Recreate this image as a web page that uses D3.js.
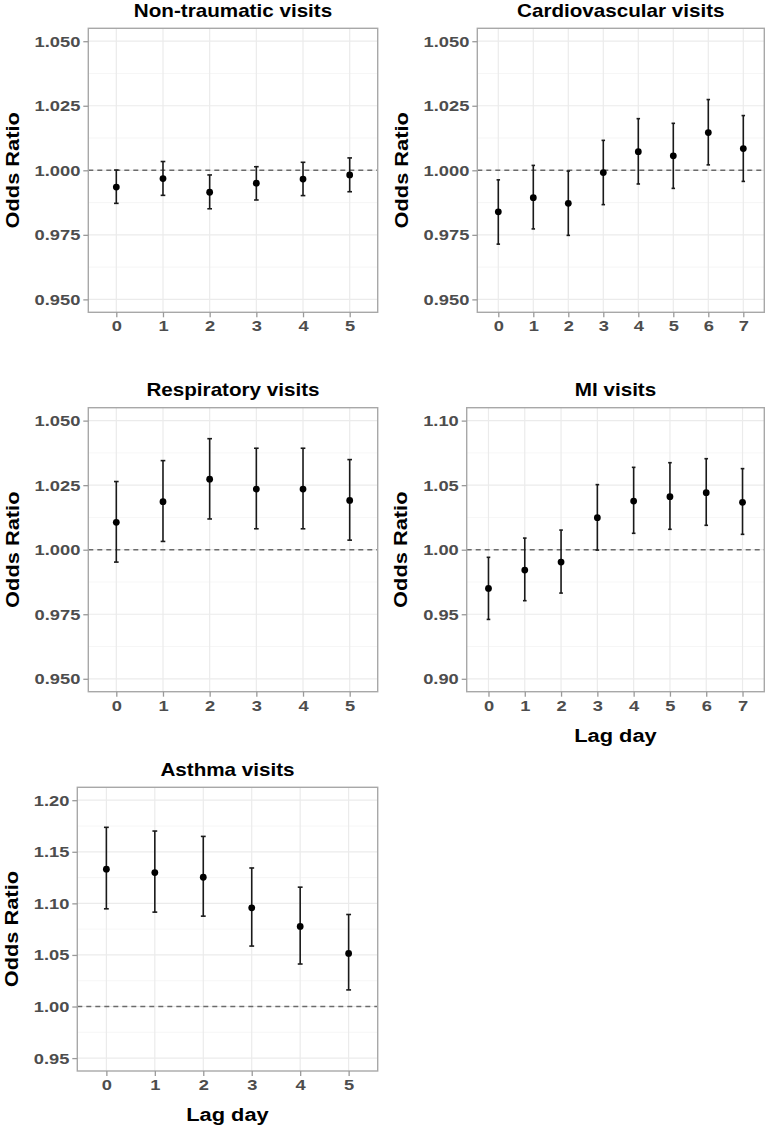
<!DOCTYPE html>
<html>
<head>
<meta charset="utf-8">
<script src="https://cdn.jsdelivr.net/npm/d3@7"></script>
<style>
  html, body { margin: 0; padding: 0; background: #fff; }
  svg { display: block; }
  text { font-family: "Liberation Sans", Arial, Helvetica, sans-serif; font-weight: bold; }
</style>
</head>
<body>
<svg id="chart" width="769" height="1128"></svg>
<script>
// ---------- DATA ----------
const panelTitles = ["Non-traumatic visits", "Cardiovascular visits", "Respiratory visits", "MI visits", "Asthma visits"];

const lagDays6 = [0, 1, 2, 3, 4, 5];
const lagDays8 = [0, 1, 2, 3, 4, 5, 6, 7];

// Non-traumatic visits
const nonTraumaOR = [0.9935, 0.9968, 0.9915, 0.9950, 0.9966, 0.9982];
const nonTraumaLo = [0.9872, 0.9903, 0.9851, 0.9885, 0.9902, 0.9917];
const nonTraumaHi = [1.0001, 1.0034, 0.9982, 1.0014, 1.0031, 1.0048];

// Cardiovascular visits
const cardioOR = [0.9839, 0.9894, 0.9872, 0.9991, 1.0072, 1.0056, 1.0146, 1.0084];
const cardioLo = [0.9714, 0.9773, 0.9748, 0.9867, 0.9947, 0.9930, 1.0021, 0.9957];
const cardioHi = [0.9963, 1.0019, 0.9997, 1.0116, 1.0200, 1.0182, 1.0274, 1.0212];

// Respiratory visits
const respOR = [1.0106, 1.0186, 1.0273, 1.0235, 1.0235, 1.0191];
const respLo = [0.9952, 1.0032, 1.0119, 1.0081, 1.0081, 1.0037];
const respHi = [1.0264, 1.0345, 1.0430, 1.0393, 1.0393, 1.0349];

// MI visits
const miOR = [0.9700, 0.9842, 0.9904, 1.0248, 1.0377, 1.0411, 1.0442, 1.0367];
const miLo = [0.9460, 0.9605, 0.9664, 0.9997, 1.0127, 1.0158, 1.0189, 1.0119];
const miHi = [0.9941, 1.0090, 1.0152, 1.0504, 1.0638, 1.0674, 1.0705, 1.0628];

// Asthma visits
const asthmaOR = [1.1331, 1.1298, 1.1253, 1.0957, 1.0776, 1.0515];
const asthmaLo = [1.0947, 1.0915, 1.0876, 1.0586, 1.0412, 1.0161];
const asthmaHi = [1.1737, 1.1701, 1.1649, 1.1343, 1.1157, 1.0892];

// Y-axis ticks (major) per panel
const ticksSmall = [0.950, 0.975, 1.000, 1.025, 1.050];
const ticksMI = [0.90, 0.95, 1.00, 1.05, 1.10];
const ticksAsthma = [0.95, 1.00, 1.05, 1.10, 1.15, 1.20];

const yTitle = "Odds Ratio";
const xTitle = "Lag day";
const refValue = 1.0;

// ---------- LAYOUT ----------
const SX = 1.18; // horizontal text stretch to match reference glyph widths
const svg = d3.select("#chart");

const panels = [
  { title: panelTitles[0], lags: lagDays6, or: nonTraumaOR, lo: nonTraumaLo, hi: nonTraumaHi,
    ticks: ticksSmall, fmt: d3.format(".3f"), box: [88.3, 28.3, 377.7, 312.3], xlab: false },
  { title: panelTitles[1], lags: lagDays8, or: cardioOR, lo: cardioLo, hi: cardioHi,
    ticks: ticksSmall, fmt: d3.format(".3f"), box: [477.3, 28.3, 764.3, 312.3], xlab: false },
  { title: panelTitles[2], lags: lagDays6, or: respOR, lo: respLo, hi: respHi,
    ticks: ticksSmall, fmt: d3.format(".3f"), box: [88.3, 407.7, 377.7, 691.7], xlab: false },
  { title: panelTitles[3], lags: lagDays8, or: miOR, lo: miLo, hi: miHi,
    ticks: ticksMI, fmt: d3.format(".2f"), box: [466.7, 407.7, 764.3, 691.7], xlab: true },
  { title: panelTitles[4], lags: lagDays6, or: asthmaOR, lo: asthmaLo, hi: asthmaHi,
    ticks: ticksAsthma, fmt: d3.format(".2f"), box: [77.3, 787.3, 377.7, 1071], xlab: true }
];

panels.forEach(p => {
  const [x0, y0, x1, y1] = p.box;
  const w = x1 - x0, h = y1 - y0;
  const g = svg.append("g").attr("transform", `translate(${x0},${y0})`);

  const tMin = d3.min(p.ticks), tMax = d3.max(p.ticks);
  const ex = (tMax - tMin) * 0.05;
  const y = d3.scaleLinear().domain([tMin - ex, tMax + ex]).range([h, 0]);
  const x = d3.scalePoint().domain(p.lags).range([0, w]).padding(0.6);

  // minor grid
  const step = p.ticks[1] - p.ticks[0];
  const minor = [p.ticks[0] - step / 2].concat(p.ticks.map(t => t + step / 2))
    .filter(v => v > y.domain()[0] && v < y.domain()[1]);
  g.append("g").selectAll("line").data(minor).join("line")
    .attr("x1", 0).attr("x2", w)
    .attr("y1", d => y(d)).attr("y2", d => y(d))
    .attr("stroke", "#f4f4f4").attr("stroke-width", 0.8);
  // major grid
  g.append("g").selectAll("line").data(p.ticks).join("line")
    .attr("x1", 0).attr("x2", w)
    .attr("y1", d => y(d)).attr("y2", d => y(d))
    .attr("stroke", "#ebebeb").attr("stroke-width", 1.2);
  g.append("g").selectAll("line").data(p.lags).join("line")
    .attr("x1", d => x(d)).attr("x2", d => x(d))
    .attr("y1", 0).attr("y2", h)
    .attr("stroke", "#ebebeb").attr("stroke-width", 1.2);

  // reference line
  g.append("line")
    .attr("x1", 0).attr("x2", w)
    .attr("y1", y(refValue)).attr("y2", y(refValue))
    .attr("stroke", "#6b6b6b").attr("stroke-width", 1.4)
    .attr("stroke-dasharray", "5,4");

  // error bars
  const rows = p.lags.map((d, i) => ({ lag: d, or: p.or[i], lo: p.lo[i], hi: p.hi[i] }));
  const capHalf = x.step() * 0.05;
  const eb = g.append("g").attr("stroke", "#1a1a1a").attr("stroke-width", 1.6);
  eb.selectAll("line.v").data(rows).join("line").attr("class", "v")
    .attr("x1", d => x(d.lag)).attr("x2", d => x(d.lag))
    .attr("y1", d => y(d.lo)).attr("y2", d => y(d.hi));
  eb.selectAll("line.t").data(rows).join("line").attr("class", "t")
    .attr("x1", d => x(d.lag) - capHalf).attr("x2", d => x(d.lag) + capHalf)
    .attr("y1", d => y(d.hi)).attr("y2", d => y(d.hi));
  eb.selectAll("line.b").data(rows).join("line").attr("class", "b")
    .attr("x1", d => x(d.lag) - capHalf).attr("x2", d => x(d.lag) + capHalf)
    .attr("y1", d => y(d.lo)).attr("y2", d => y(d.lo));
  g.append("g").selectAll("circle").data(rows).join("circle")
    .attr("cx", d => x(d.lag)).attr("cy", d => y(d.or))
    .attr("r", 3.4).attr("fill", "#000");

  // border
  g.append("rect").attr("x", 0).attr("y", 0).attr("width", w).attr("height", h)
    .attr("fill", "none").attr("stroke", "#a8a8a8").attr("stroke-width", 1.4);

  // axes
  const yAxis = g.append("g")
    .call(d3.axisLeft(y).tickValues(p.ticks).tickFormat(p.fmt).tickSize(5).tickPadding(3));
  const xAxis = g.append("g").attr("transform", `translate(0,${h})`)
    .call(d3.axisBottom(x).tickSize(5).tickPadding(3));
  [yAxis, xAxis].forEach(ax => {
    ax.select(".domain").remove();
    ax.selectAll(".tick line").attr("stroke", "#9a9a9a").attr("stroke-width", 1.3);
    ax.selectAll(".tick text")
      .attr("fill", "#4d4d4d")
      .style("font-size", "15.5px")
      .style("font-family", "'Liberation Sans', Arial, sans-serif")
      .style("font-weight", "bold");
  });
  yAxis.selectAll(".tick text").attr("x", -8 / SX).attr("transform", `scale(${SX},1)`);
  xAxis.selectAll(".tick text").attr("transform", `scale(${SX},1)`);

  // title
  g.append("text")
    .attr("transform", `translate(${w / 2},${-11.7}) scale(${SX},1)`)
    .attr("text-anchor", "middle")
    .attr("fill", "#000")
    .style("font-size", "17.5px")
    .text(p.title);

  // y title
  const bb = yAxis.node().getBBox();
  g.append("text")
    .attr("transform", `translate(${bb.x - 22.5 + 6.5},${h / 2}) rotate(-90) scale(${SX},1)`)
    .attr("text-anchor", "middle")
    .attr("fill", "#000")
    .style("font-size", "18.5px")
    .text(yTitle);

  if (p.xlab) {
    g.append("text")
      .attr("transform", `translate(${w / 2},${h + 50}) scale(${SX},1)`)
      .attr("text-anchor", "middle")
      .attr("fill", "#000")
      .style("font-size", "18.5px")
      .text(xTitle);
  }
});
</script>
</body>
</html>
